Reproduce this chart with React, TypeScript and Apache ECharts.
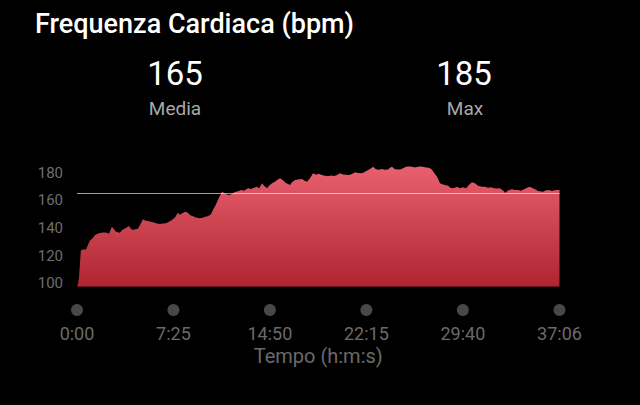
import React, { useEffect, useRef } from "react";
import * as echarts from "echarts";

// elapsed time in seconds
const times = [
  0, 5, 9, 14, 18, 28, 42, 51, 60, 74, 83, 97, 111, 125, 138, 148, 152, 161, 171, 180,
  189, 198, 208, 221, 231, 240, 249, 258, 268, 281, 295, 304, 314, 328, 341, 355, 369, 383, 397, 411,
  424, 438, 452, 466, 475, 484, 498, 512, 521, 535, 549, 563, 577, 591, 604, 618, 627, 641, 655, 669,
  683, 697, 710, 729, 743, 757, 770, 789, 803, 817, 830, 840, 854, 863, 877, 886, 900, 913, 927, 937,
  950, 964, 983, 992, 1006, 1020, 1038, 1052, 1061, 1075, 1089, 1103, 1116, 1130, 1144, 1158, 1172, 1186, 1200, 1213,
  1227, 1241, 1255, 1269, 1283, 1296, 1315, 1329, 1343, 1356, 1366, 1379, 1393, 1407, 1421, 1435, 1444, 1453, 1467, 1481,
  1495, 1509, 1518, 1532, 1546, 1559, 1578, 1596, 1610, 1624, 1638, 1647, 1661, 1675, 1689, 1698, 1712, 1721, 1730, 1744,
  1753, 1767, 1781, 1795, 1808, 1822, 1836, 1850, 1868, 1882, 1896, 1910, 1924, 1938, 1952, 1961, 1970, 1975, 1984, 1993,
  2007, 2021, 2035, 2048, 2067, 2081, 2090, 2099, 2113, 2127, 2141, 2150, 2164, 2178, 2191, 2205, 2214, 2226,
];

// heart rate (bpm)
const bpm = [
  97.5, 100, 104, 115, 124, 124.5, 124.5, 128, 131, 133, 135, 136, 136.5, 136.7, 136.5, 135.8, 137.5, 140.9, 139, 137.3,
  137, 136.5, 138.5, 139.7, 140.5, 141.4, 139.5, 138.5, 139, 139.5, 143.4, 146.3, 145.5, 145, 144.5, 143.9, 143.2, 142.9, 143.2, 143.4,
  144.5, 145.8, 147.5, 151, 149.5, 150.5, 151.8, 151, 149.4, 148.5, 147.5, 147, 147.3, 148.2, 148.5, 150, 153, 157, 162, 166.2,
  165, 163.8, 164.2, 166, 166.5, 167.5, 167, 168.7, 168.2, 169, 169.8, 168.5, 172.3, 170.5, 168.7, 170.5, 172.3, 173.5, 175, 175.9,
  174.5, 172.5, 171.1, 173, 174.7, 175, 175.4, 174, 173.5, 176, 179.5, 178.5, 179.2, 178.3, 177.8, 177.3, 178, 177.5, 178.3, 179.5,
  178.7, 178.5, 178.3, 179, 180.3, 179.8, 179.5, 180.7, 181.9, 183, 184.3, 182.5, 182, 182.6, 182, 182.2, 183.5, 184.3, 182.5, 182.3,
  182.5, 183.5, 184.3, 184.5, 184.2, 183.8, 184.5, 184.3, 183.8, 183.5, 182, 180, 177.1, 172.3, 171.5, 171.1, 170.5, 169.2, 168.7, 169,
  169.8, 168.7, 169.5, 168.7, 171, 173, 172.3, 170.5, 169.8, 169.8, 169, 169.5, 168.8, 168.5, 168.8, 167.5, 166.5, 165.2, 166.5, 167.5,
  168, 167.5, 167.5, 167, 168.3, 169.5, 169.8, 169, 168, 166.8, 166.3, 166.2, 167.2, 167.5, 166.8, 167.3, 167.5, 167.5,
];

const yTicks = [100, 120, 140, 160, 180];
const xTicks = [0, 445, 890, 1335, 1780, 2226];
const avgBpm = 165;
const maxBpm = 185;
const titleText = "Frequenza Cardiaca (bpm)";
const avgLabel = "Media";
const maxLabel = "Max";
const xAxisName = "Tempo (h:m:s)";

const fmtTime = (v: number) => {
  const m = Math.floor(v / 60);
  const s = Math.round(v % 60);
  return `${m}:${s < 10 ? "0" + s : s}`;
};

const FONT = "Roboto, 'Noto Sans', sans-serif";

export default function App() {
  const ref = useRef<HTMLDivElement>(null);
  useEffect(() => {
    if (!ref.current) return;
    const chart = echarts.init(ref.current, undefined, { renderer: "svg" });
    const data = times.map((t, i) => [t, bpm[i]]);
    const center = (x: number, y: number, text: string, size: number, fill: string, weight: any = "normal") => ({
      type: "text",
      x,
      y,
      style: { text, fill, fontSize: size, fontWeight: weight, fontFamily: FONT, align: "center", verticalAlign: "middle" },
    });
    chart.setOption({
      animation: false,
      backgroundColor: "#000000",
      textStyle: { fontFamily: FONT },
      graphic: [
        {
          type: "text",
          x: 35,
          y: 24,
          style: { text: titleText, fill: "#ffffff", fontSize: 27, fontWeight: 500, fontFamily: FONT, align: "left", verticalAlign: "middle" },
        },
        center(175, 73, String(avgBpm), 33, "#ffffff"),
        center(175, 108, avgLabel, 19, "#a8a8a8"),
        center(464, 73, String(maxBpm), 33, "#ffffff"),
        center(465, 108, maxLabel, 19, "#a8a8a8"),
      ],
      grid: [
        { left: 77, right: 80.5, top: 158.8, bottom: 118.2 },
        { left: 77, right: 80.5, top: 300, height: 20 },
      ],
      xAxis: [
        {
          type: "value",
          gridIndex: 0,
          min: 0,
          max: 2226,
          axisLine: { show: false },
          axisTick: { show: false },
          axisLabel: { show: false },
          splitLine: { show: false },
        },
        {
          type: "value",
          gridIndex: 1,
          min: 0,
          max: 2226,
          name: xAxisName,
          nameLocation: "middle",
          nameGap: 25.5,
          nameTextStyle: { color: "#6a6a6a", fontSize: 20, fontFamily: FONT },
          axisLine: { show: false },
          axisTick: { show: false },
          splitLine: { show: false },
          axisLabel: {
            customValues: xTicks,
            formatter: (v: number) => fmtTime(v),
            color: "#6a6a6a",
            fontSize: 18,
            fontFamily: FONT,
            margin: 4.5,
          },
        },
      ],
      yAxis: [
        {
          type: "value",
          gridIndex: 0,
          min: 97.5,
          max: 190,
          axisLine: { show: false },
          axisTick: { show: false },
          splitLine: { show: false },
          axisLabel: {
            customValues: yTicks,
            color: "#6e6e6e",
            fontSize: 15,
            fontFamily: FONT,
            margin: 14,
          },
        },
        {
          type: "value",
          gridIndex: 1,
          min: 0,
          max: 1,
          show: false,
        },
      ],
      series: [
        {
          type: "line",
          xAxisIndex: 0,
          yAxisIndex: 0,
          data,
          showSymbol: false,
          symbol: "none",
          lineStyle: { width: 0, opacity: 0 },
          areaStyle: {
            origin: "start",
            opacity: 1,
            color: new echarts.graphic.LinearGradient(0, 0, 0, 1, [
              { offset: 0, color: "#e8606f" },
              { offset: 1, color: "#af2430" },
            ]),
          },
          markLine: {
            silent: true,
            symbol: "none",
            label: { show: false },
            lineStyle: { color: "rgba(255,255,255,0.62)", width: 1.2, type: "solid" },
            data: [{ yAxis: avgBpm }],
          },
        },
        {
          type: "scatter",
          xAxisIndex: 1,
          yAxisIndex: 1,
          data: xTicks.map((t) => [t, 0.5]),
          symbolSize: 12,
          itemStyle: { color: "#5a5a5a" },
          silent: true,
        },
      ],
    });
    return () => chart.dispose();
  }, []);
  return (
    <div
      ref={ref}
      style={{ position: "absolute", left: 0, top: 0, width: 640, height: 405 }}
    />
  );
}
